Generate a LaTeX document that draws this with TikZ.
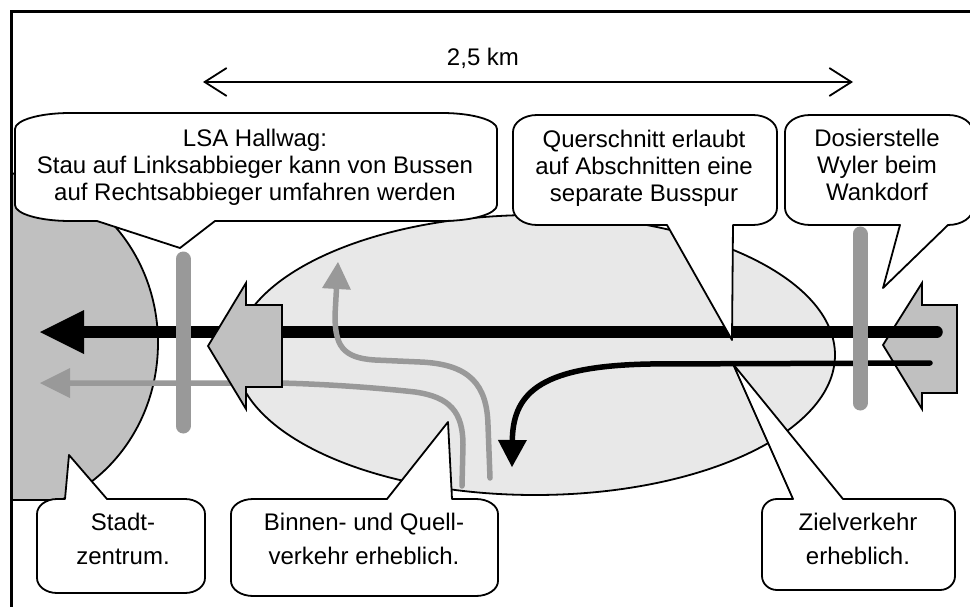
\documentclass[tikz,border=0pt]{standalone}
\usepackage{fontspec}
\setmainfont{Liberation Sans}
\usetikzlibrary{arrows.meta}
\definecolor{citygray}{HTML}{C0C0C0}
\definecolor{zonegray}{HTML}{E8E8E8}
\definecolor{flowgray}{HTML}{999999}

% Speech bubble with elliptic corners, pointer on the lower side.
% #1 x1, #2 y1, #3 x2, #4 y2, #5 corner x radius, #6 corner y radius,
% #7 pointer base left, #8 pointer base right, #9 pointer tip coordinate
\newcommand{\bubbleDown}[9]{%
  \path[bubble] ({#1+#5},#2) -- ({#3-#5},#2)
    .. controls ({#3-0.448*#5},#2) and (#3,{#2+0.448*#6}) .. (#3,{#2+#6})
    -- (#3,{#4-#6})
    .. controls (#3,{#4-0.448*#6}) and ({#3-0.448*#5},#4) .. ({#3-#5},#4)
    -- (#8,#4) -- (#9) -- (#7,#4) -- ({#1+#5},#4)
    .. controls ({#1+0.448*#5},#4) and (#1,{#4-0.448*#6}) .. (#1,{#4-#6})
    -- (#1,{#2+#6})
    .. controls (#1,{#2+0.448*#6}) and ({#1+0.448*#5},#2) .. ({#1+#5},#2)
    -- cycle;}
% Same bubble with the pointer on the upper side.
\newcommand{\bubbleUp}[9]{%
  \path[bubble] ({#1+#5},#2) -- (#7,#2) -- (#9) -- (#8,#2) -- ({#3-#5},#2)
    .. controls ({#3-0.448*#5},#2) and (#3,{#2+0.448*#6}) .. (#3,{#2+#6})
    -- (#3,{#4-#6})
    .. controls (#3,{#4-0.448*#6}) and ({#3-0.448*#5},#4) .. ({#3-#5},#4)
    -- ({#1+#5},#4)
    .. controls ({#1+0.448*#5},#4) and (#1,{#4-0.448*#6}) .. (#1,{#4-#6})
    -- (#1,{#2+#6})
    .. controls (#1,{#2+0.448*#6}) and ({#1+0.448*#5},#2) .. ({#1+#5},#2)
    -- cycle;}

\begin{document}
\begin{tikzpicture}[x=1pt,y=-1pt,
  outline/.style={draw=black,line width=1.8pt,line join=round},
  bubble/.style={outline,fill=white},
  blockarrow/.style={outline,fill=citygray,line join=miter},
  signal/.style={flowgray,line width=15pt,line cap=round},
  mainflow/.style={line width=11.5pt,line cap=round},
  thinflow/.style={line width=5.5pt,line cap=round},
  label/.style={font=\fontsize{24}{27}\selectfont,align=center,inner sep=0pt},
  lowlabel/.style={font=\fontsize{24}{33.5}\selectfont,align=center,inner sep=0pt},
]
\useasboundingbox (0,0) rectangle (970,607);
\clip (0,0) rectangle (970,607);
\fill[white] (0,0) rectangle (970,607);

% city centre
\begin{scope}
  \clip (13,0) rectangle (500,500);
  \path[outline,fill=citygray] (0,343) ellipse [x radius=158, y radius=170];
\end{scope}
\draw[line width=1.8pt] (13,500) -- (62,500);

% corridor zone
\path[outline,fill=zonegray] (535,355) ellipse [x radius=300, y radius=140];

% inflow block arrow at the metering point
\path[blockarrow] (883,345) -- (922,283) -- (922,305) -- (957,305) -- (957,393)
  -- (922,393) -- (922,409) -- cycle;

% through traffic towards the centre
\draw[mainflow,-{Triangle[length=44pt,width=44pt,line width=0pt]}]
  (937,332) -- (40,332);
% destination traffic
\draw[thinflow,-{Triangle[length=27pt,width=29pt,line width=0pt]}]
  (930,363) -- (650,364) .. controls (545,366) and (513,390) .. (512,467);
% local and origin traffic
\draw[thinflow,flowgray,-{Triangle[length=30pt,width=30pt,line width=0pt]}]
  (462,486) -- (463,445) .. controls (463,412) and (450,397) .. (415,392)
  .. controls (370,387) and (320,384) .. (280,383) -- (40,383);
\draw[thinflow,flowgray,-{Triangle[length=27pt,width=29pt,line width=0pt]}]
  (490,478) -- (488,425) .. controls (487,385) and (470,364) .. (420,362)
  -- (375,360) .. controls (342,358) and (335,345) .. (335,315) -- (338,262);

% block arrow at the city entrance
\path[blockarrow] (208,346) -- (246,283) -- (246,305) -- (282,305) -- (282,387)
  -- (246,387) -- (246,409) -- cycle;

% traffic signal bars
\draw[signal] (183,259) -- (183,426);
\draw[signal] (860,234) -- (860,403);

% callouts
\coordinate (tipLSA) at (180,248);
\coordinate (tipQuer) at (732,340);
\coordinate (tipDos) at (883,288);
\coordinate (tipStadt) at (69,455);
\coordinate (tipBinnen) at (448,422);
\coordinate (tipZiel) at (733,364);

\bubbleDown{15}{113}{497}{221}{55}{16}{97}{215}{tipLSA}
\bubbleDown{513}{115}{777}{225}{24}{17}{667}{733}{tipQuer}
\bubbleDown{785}{115}{973}{225}{25}{17}{900}{948}{tipDos}
\bubbleUp{37}{499}{205}{593}{20}{15}{65}{107}{tipStadt}
\bubbleUp{231}{499}{498}{596}{22}{15}{387}{452}{tipBinnen}
\bubbleUp{762}{499}{955}{590}{15}{14}{793}{843}{tipZiel}

\node[label] (lsa) at (255,168)
  {\strut LSA Hallwag:\\Stau auf Linksabbieger kann von Bussen\\auf Rechtsabbieger umfahren werden\strut};
\node[label] (quer) at (644,169)
  {\strut Querschnitt erlaubt\\auf Abschnitten eine\\separate Busspur\strut};
\node[label] (dos) at (877,168)
  {\strut Dosierstelle\\Wyler beim\\Wankdorf\strut};
\node[lowlabel] (stadt) at (123,541) {\strut Stadt-\\zentrum.\strut};
\node[lowlabel] (binnen) at (364,541) {\strut Binnen- und Quell-\\verkehr erheblich.\strut};
\node[lowlabel] (ziel) at (858,541) {\strut Zielverkehr\\erheblich.\strut};

% distance
\coordinate (distL) at (203,82);
\coordinate (distR) at (853,82);
\draw[line width=1.8pt,
  {Straight Barb[length=22pt,width=28pt]}-{Straight Barb[length=22pt,width=28pt]}]
  (distL) -- (distR);
\node[label] (dist) at (483,58) {2,5 km};

% frame
\draw[line width=3.5pt] (11.5,11.5) rectangle (1000,650);
\end{tikzpicture}
\end{document}
